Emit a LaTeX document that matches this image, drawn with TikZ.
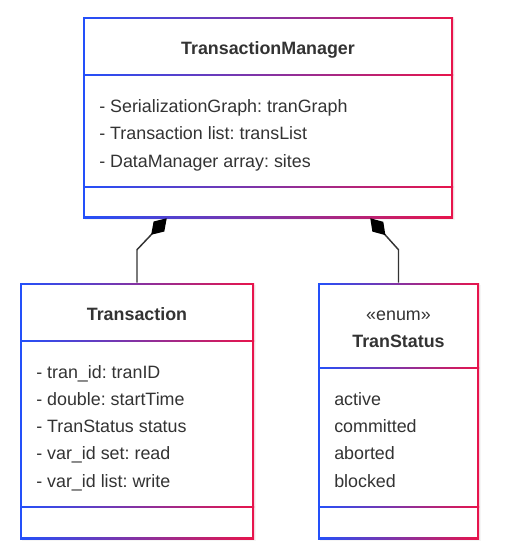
\documentclass[tikz,border=0pt]{standalone}
\usepackage{fontspec}
\setmainfont{Liberation Sans}
\usetikzlibrary{ arrows.meta, fit, shadows }
\definecolor{umlblue}{RGB}{35,80,250}
\definecolor{umlred}{RGB}{232,20,75}
\definecolor{inkgrey}{RGB}{51,51,51}
\frenchspacing
\tikzset{
umlbox/.style={inner sep=0pt, fill=white, % class box with blue-to-red frame
  drop shadow={shadow xshift=1.2pt, shadow yshift=-1.2pt, opacity=0.08},
  path picture={
    \shade[left color=umlblue, right color=umlred] (path picture bounding box.south west) rectangle (path picture bounding box.north east);
    \fill[white] ([shift={(1.3pt,1.3pt)}]path picture bounding box.south west) rectangle ([shift={(-1.3pt,-1.3pt)}]path picture bounding box.north east);
  }},
divider/.style={left color=umlblue, right color=umlred},
attr/.style={anchor=base west, inner sep=0pt, text=inkgrey, font=\fontsize{13.4}{15}\selectfont},
title/.style={anchor=base, inner sep=0pt, text=inkgrey, font=\bfseries\fontsize{13.4}{15}\selectfont},
comp/.style={draw=inkgrey, line width=1.1pt, -{Diamond[length=17pt,width=11pt,color=black]}}, % composition
}
\begin{document}
\begin{tikzpicture}[x=0.75pt, y=-0.75pt]% one unit = one pixel, y runs down
  \useasboundingbox (0,0) rectangle (518,558);
  \node[umlbox, fit={(83,17) (453,218)}] (tm) {};
  \node[umlbox, fit={(20,283) (254,539)}] (tran) {};
  \node[umlbox, fit={(318,283) (479,539)}] (stat) {};

  \shade[divider] (83,74.2) rectangle (453,75.8);
  \shade[divider] (83,186.2) rectangle (453,187.8);
  \shade[divider] (20,340.2) rectangle (254,341.8);
  \shade[divider] (20,506.2) rectangle (254,507.8);
  \shade[divider] (318,367.2) rectangle (479,368.8);
  \shade[divider] (318,506.2) rectangle (479,507.8);

  \node[title] (tmname) at (268,54) {TransactionManager};
  \foreach \txt [count=\i] in {- SerializationGraph: tranGraph, - Transaction list: transList, - DataManager array: sites}
    \node[attr] (tma\i) at (99,84.5+27.5*\i) {\txt};

  \node[title] (tranname) at (137,320.5) {Transaction};
  \foreach \txt [count=\i] in {- tran\_id: tranID, - double: startTime, - TranStatus status, - var\_id set: read, - var\_id list: write}
    \node[attr] (trana\i) at (36,350.7+27.3*\i) {\txt};

  \node[title, font=\fontsize{13.4}{15}\selectfont] (stereo) at (398.5,320) {«enum»};
  \node[title] (statname) at (398.5,347) {TranStatus};
  \foreach \txt [count=\i] in {active, committed, aborted, blocked}
    \node[attr] (stata\i) at (334,378+27.3*\i) {\txt};

  \draw[comp] (tran.north) -- ++(0,-33) -- ([xshift=63pt]tm.south west);
  \draw[comp] (stat.north) -- ++(0,-33) -- ([xshift=-62.25pt]tm.south east);
\end{tikzpicture}
\end{document}
